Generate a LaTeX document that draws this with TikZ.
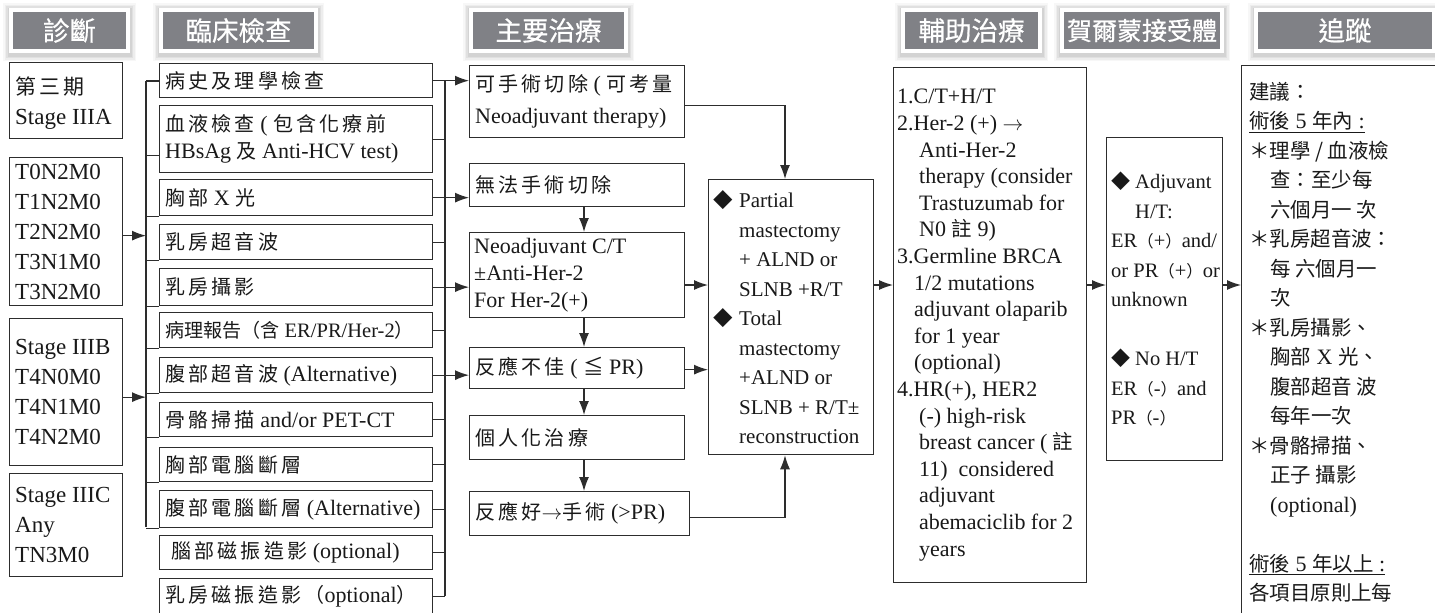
\documentclass[tikz,border=0pt]{standalone}
\usepackage{fontspec}
\setmainfont{Liberation Serif}
\newfontfamily\zh[Scale=0.91,LetterSpace=16]{Noto Sans CJK TC}
\newfontfamily\zhn[Scale=0.93]{Noto Sans CJK TC}
\newfontfamily\zhs[Scale=0.8]{Noto Sans CJK TC}
\newfontfamily\hdfont[FakeBold=0.6]{Noto Sans CJK TC}
\usetikzlibrary{arrows.meta,backgrounds}
\definecolor{hdrgray}{RGB}{128,129,134}
\definecolor{lc}{RGB}{45,45,45}

\begin{document}
\begin{tikzpicture}[x=1pt,y=-1pt,
  box/.style={draw=lc, line width=1.3pt, inner sep=0pt, anchor=north west},
  txt/.style={anchor=west, align=left, inner sep=0pt, text=black!90, font=\fontsize{22}{27}\selectfont},
  wire/.style={draw=lc, line width=1.2pt},
  arr/.style={draw=lc, line width=1.2pt, -{Latex[length=14pt,width=10pt]}},
  hdrbox/.style={fill=hdrgray, draw=white, line width=4pt, text=white, inner sep=0pt,
    minimum height=41pt, font=\hdfont\fontsize{26.5}{26.5}\selectfont}]
\useasboundingbox (0,0) rectangle (1435,613);
\clip (0,0) rectangle (1435,613);

% ---------- column headers ----------
\node[hdrbox, minimum width=117pt] (h1) at (69.5,30.5) {診斷};
\node[hdrbox, minimum width=155pt] (h2) at (238.5,30.5) {臨床檢查};
\node[hdrbox, minimum width=155pt] (h3) at (548.5,30.5) {主要治療};
\node[hdrbox, minimum width=137pt] (h4) at (971.5,30.5) {輔助治療};
\node[hdrbox, minimum width=160pt, font=\hdfont\fontsize{25}{25}\selectfont] (h5) at (1142,30.5) {賀爾蒙接受體};
\node[hdrbox, minimum width=178pt] (h6) at (1345,30.5) {追蹤};

\begin{scope}[on background layer]
  \fill[white] (0,0) rectangle (1435,613);
  \foreach \h in {h1,h2,h3,h4,h5,h6}{
    \foreach \d/\o in {1.5/0.06,3/0.05,4.5/0.04,6/0.03}{
      \fill[black,opacity=\o] ([shift={(-\d pt,\d pt-1pt)}]\h.north west)
        rectangle ([shift={(\d pt,-\d pt-2pt)}]\h.south east);
    }
  }
\end{scope}

% ---------- diagnosis (stage) boxes ----------
\node[box, minimum width=113pt, minimum height=76pt] (dA) at (9,62) {};
\node[box, minimum width=113pt, minimum height=148pt] (dB) at (9,157) {};
\node[box, minimum width=113pt, minimum height=147pt] (dC) at (9,318) {};
\node[box, minimum width=113pt, minimum height=103pt] (dD) at (9,473) {};
\begin{scope}[txt/.append style={font=\fontsize{23}{30}\selectfont}]
\node[txt] at ([xshift=6pt,yshift=-2pt]dA.west) {{\zh 第三期}\\Stage IIIA};
\node[txt] at ([xshift=6pt]dB.west) {T0N2M0\\T1N2M0\\T2N2M0\\T3N1M0\\T3N2M0};
\node[txt] at ([xshift=6pt]dC.west) {Stage IIIB\\T4N0M0\\T4N1M0\\T4N2M0};
\node[txt] at ([xshift=6pt]dD.west) {Stage IIIC\\Any\\TN3M0};
\end{scope}

% ---------- clinical examination boxes ----------
\node[box, minimum width=273pt, minimum height=34pt] (c1) at (159,63) {};
\node[box, minimum width=273pt, minimum height=67pt] (c2) at (159,105) {};
\node[box, minimum width=273pt, minimum height=36pt] (c3) at (159,179) {};
\node[box, minimum width=273pt, minimum height=35pt] (c4) at (159,224) {};
\node[box, minimum width=273pt, minimum height=37pt] (c5) at (159,268) {};
\node[box, minimum width=273pt, minimum height=35pt] (c6) at (159,312) {};
\node[box, minimum width=273pt, minimum height=35pt] (c7) at (159,357) {};
\node[box, minimum width=273pt, minimum height=34pt] (c8) at (159,402) {};
\node[box, minimum width=273pt, minimum height=34pt] (c9) at (159,447) {};
\node[box, minimum width=273pt, minimum height=37pt] (c10) at (159,490) {};
\node[box, minimum width=273pt, minimum height=34pt] (c11) at (159,535) {};
\node[box, minimum width=273pt, minimum height=36pt] (c12) at (159,578) {};

\node[txt] at ([xshift=6pt]c1.west) {\zh 病史及理學檢查};
\node[txt] at ([xshift=6pt]c2.west) {{\zh 血液檢查} ( {\zh 包含化療前}\\HBsAg {\zh 及} Anti-HCV test)};
\node[txt] at ([xshift=6pt]c3.west) {{\zh 胸部} X {\zh 光}};
\node[txt] at ([xshift=6pt]c4.west) {\zh 乳房超音波};
\node[txt] at ([xshift=6pt]c5.west) {\zh 乳房攝影};
\node[txt, font=\fontsize{20.5}{25}\selectfont] at ([xshift=6pt]c6.west) {{\zhn 病理報告（含} ER/PR/Her-2{\zhn ）}};
\node[txt] at ([xshift=6pt]c7.west) {{\zh 腹部超音波} (Alternative)};
\node[txt] at ([xshift=6pt]c8.west) {{\zh 骨骼掃描} and/or PET-CT};
\node[txt] at ([xshift=6pt]c9.west) {\zh 胸部電腦斷層};
\node[txt] at ([xshift=6pt]c10.west) {{\zh 腹部電腦斷層} (Alternative)};
\node[txt] at ([xshift=12pt]c11.west) {{\zh 腦部磁振造影} (optional)};
\node[txt] at ([xshift=6pt]c12.west) {{\zh 乳房磁振造影（}optional{\zh ）}};

% ---------- primary treatment boxes ----------
\node[box, minimum width=215pt, minimum height=72pt] (m1) at (469,65) {};
\node[box, minimum width=215pt, minimum height=43pt] (m2) at (469,163) {};
\node[box, minimum width=215pt, minimum height=85pt] (m3) at (469,232) {};
\node[box, minimum width=215pt, minimum height=41pt] (m4) at (469,347) {};
\node[box, minimum width=215pt, minimum height=44pt] (m5) at (469,415) {};
\node[box, minimum width=220pt, minimum height=44pt] (m6) at (469,491) {};

\node[txt, font=\fontsize{22}{32}\selectfont] at ([xshift=6pt]m1.west) {{\zh 可手術切除} ( {\zh 可考量}\\Neoadjuvant therapy)};
\node[txt] at ([xshift=6pt]m2.west) {\zh 無法手術切除};
\node[txt] at ([xshift=5pt]m3.west) {Neoadjuvant C/T\\±Anti-Her-2\\For Her-2(+)};
\node[txt] at ([xshift=6pt]m4.west) {{\zh 反應不佳} ( {\zhn ≦} PR)};
\node[txt] at ([xshift=6pt]m5.west) {\zh 個人化治療};
\node[txt] at ([xshift=6pt]m6.west) {{\zh 反應好}$\rightarrow${\zh 手術} (>PR)};

% ---------- surgery box ----------
\node[box, minimum width=165pt, minimum height=275pt] (s) at (708,179) {};
\node[txt, font=\fontsize{21}{29.5}\selectfont] at ([xshift=5pt]s.west) {%
\makebox[26pt][l]{\zhn ◆}Partial\\
\hspace*{26pt}mastectomy\\
\hspace*{26pt}+ ALND or\\
\hspace*{26pt}SLNB +R/T\\
\makebox[26pt][l]{\zhn ◆}Total\\
\hspace*{26pt}mastectomy\\
\hspace*{26pt}+ALND or\\
\hspace*{26pt}SLNB + R/T±\\
\hspace*{26pt}reconstruction};

% ---------- adjuvant therapy box ----------
\node[box, minimum width=193pt, minimum height=515pt] (a) at (893,67) {};
\node[txt, font=\fontsize{22}{26.6}\selectfont] at ([xshift=4pt]a.west) {%
1.C/T+H/T\\
2.Her-2 (+) $\rightarrow$\\
\hspace*{22pt}Anti-Her-2\\
\hspace*{22pt}therapy (consider\\
\hspace*{22pt}Trastuzumab for\\
\hspace*{22pt}N0 {\zhn 註} 9)\\
3.Germline BRCA\\
\hspace*{17pt}1/2 mutations\\
\hspace*{17pt}adjuvant olaparib\\
\hspace*{17pt}for 1 year\\
\hspace*{17pt}(optional)\\
4.HR(+), HER2\\
\hspace*{22pt}(-) high-risk\\
\hspace*{22pt}breast cancer ( {\zhn 註}\\
\hspace*{22pt}11)~ considered\\
\hspace*{22pt}adjuvant\\
\hspace*{22pt}abemaciclib for 2\\
\hspace*{22pt}years};

% ---------- hormone receptor box ----------
\node[box, minimum width=116pt, minimum height=323pt] (h) at (1106,137) {};
\node[txt, font=\fontsize{20.5}{29.5}\selectfont] at ([xshift=5pt]h.west) {%
\makebox[24pt][l]{\zhn ◆}Adjuvant\\
\hspace*{24pt}H/T:\\
ER{\zhs （}+{\zhs ）}and/\\
or PR{\zhs （}+{\zhs ）}or\\
unknown\\
\mbox{}\\
\makebox[24pt][l]{\zhn ◆}No H/T\\
ER{\zhs （}-{\zhs ）}and\\
PR{\zhs （}-{\zhs ）}};

% ---------- follow-up box ----------
\node[box, minimum width=240pt, minimum height=600pt] (f) at (1241,65) {};
\node[txt, anchor=north west, font=\fontsize{22}{29.5}\selectfont] at (1249,82) {%
{\zhn 建議：}\\
\underline{{\zhn 術後} 5 {\zhn 年內} :}\\
{\zhn ＊理學 / 血液檢}\\
\hspace*{21pt}{\zhn 查：至少每}\\
\hspace*{21pt}{\zhn 六個月一 次}\\
{\zhn ＊乳房超音波：}\\
\hspace*{21pt}{\zhn 每 六個月一}\\
\hspace*{21pt}{\zhn 次}\\
{\zhn ＊乳房攝影、}\\
\hspace*{21pt}{\zhn 胸部} X {\zhn 光、}\\
\hspace*{21pt}{\zhn 腹部超音 波}\\
\hspace*{21pt}{\zhn 每年一次}\\
{\zhn ＊骨骼掃描、}\\
\hspace*{21pt}{\zhn 正子 攝影}\\
\hspace*{21pt}(optional)\\
\mbox{}\\
\underline{{\zhn 術後} 5 {\zhn 年以上} :}\\
{\zhn 各項目原則上每}};

% ---------- connectors: stages to examination bus ----------
\coordinate (lbT) at (146,81);
\coordinate (lbB) at (146,527);
\draw[wire] (lbT) -- (lbB);
\draw[wire] (lbT) -- (lbT -| c1.west);
\path ([yshift=-16.5pt]c2.west) coordinate (c2s);
\draw[wire] (c2s) -- (c2s -| lbT);
\foreach \c in {c3,c4,c5,c6,c7,c8,c9,c10}
  \draw[wire] (\c.south west) -- (\c.south west -| lbT);
\path ([yshift=-4pt]dB.east) coordinate (dBo);
\path ([yshift=-5pt]dC.east) coordinate (dCo);
\draw[arr] (dBo) -- (dBo -| lbT);
\draw[arr] (dCo) -- (dCo -| lbT);

% ---------- connectors: examination bus to primary treatment ----------
\coordinate (rbT) at (445,80);
\coordinate (rbB) at (445,596);
\draw[wire] (rbT) -- (rbB);
\foreach \c in {c2,c4,c6,c8,c9,c10,c11,c12}
  \draw[wire] (\c.east) -- (\c.east -| rbT);
\draw[arr] (c1.east) -- (c1.east -| m1.west);
\draw[arr] (c3.east) -- (c3.east -| m2.west);
\draw[arr] (c5.east) -- (c5.east -| m3.west);
\draw[arr] (c7.east) -- (c7.east -| m4.west);

% ---------- primary treatment chain ----------
\coordinate (vx) at (584,0);
\draw[arr] (vx |- m2.south) -- (vx |- m3.north);
\draw[arr] (vx |- m3.south) -- (vx |- m4.north);
\draw[arr] (vx |- m4.south) -- (vx |- m5.north);
\draw[arr] (vx |- m5.south) -- (vx |- m6.north);

\coordinate (sx) at (785,0);
\path ([yshift=-4pt]m1.east) coordinate (m1o);
\path ([yshift=-4pt]m6.east) coordinate (m6o);
\draw[arr] (m1o) -| (sx |- s.north);
\draw[arr] (m6o) -| (sx |- s.south);

\coordinate (row) at (0,285);
\draw[arr] (m3.east |- row) -- (s.west |- row);
\path ([yshift=-1.5pt]m4.east) coordinate (m4o);
\draw[arr] (m4o) -- (m4o -| s.west);
\draw[arr] (s.east |- row) -- (a.west |- row);
\draw[arr] (a.east |- row) -- (h.west |- row);
\draw[arr] (h.east |- row) -- (f.west |- row);
\end{tikzpicture}
\end{document}
